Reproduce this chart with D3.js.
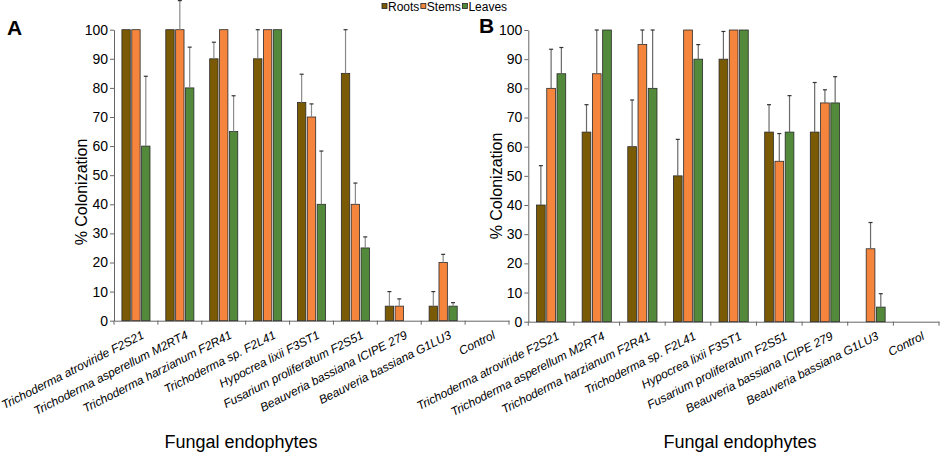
<!DOCTYPE html>
<html>
<head>
<meta charset="utf-8">
<script src="https://cdn.jsdelivr.net/npm/d3@7"></script>
<style>
  body { margin: 0; background: #fff; }
  svg { font-family: "Liberation Sans", Arial, sans-serif; }
  .tick text { fill: #000; }
</style>
</head>
<body>
<div id="chart"></div>
<script>
// categories
var endophytes = [
  "Trichoderma atroviride F2S21",
  "Trichoderma asperellum M2RT4",
  "Trichoderma harzianum F2R41",
  "Trichoderma sp. F2L41",
  "Hypocrea lixii F3ST1",
  "Fusarium proliferatum F2S51",
  "Beauveria bassiana ICIPE 279",
  "Beauveria bassiana G1LU3",
  "Control"
];
var tissues = ["Roots", "Stems", "Leaves"];
var yTicks = [0, 10, 20, 30, 40, 50, 60, 70, 80, 90, 100];

// panel A values (% colonization) and error bars
var rootsA = [100, 100, 90, 90, 75, 85, 5, 5, 0];
var rootsErrA = [0, 0, 5.7, 10, 9.7, 15, 5, 5, 0];
var stemsA = [100, 100, 100, 100, 70, 40, 5, 20, 0];
var stemsErrA = [0, 10, 0, 0, 4.5, 7.3, 2.5, 2.8, 0];
var leavesA = [60, 80, 65, 100, 40, 25, 0, 5, 0];
var leavesErrA = [24, 14, 12.3, 0, 18.3, 3.8, 0, 1.2, 0];

// panel B values
var rootsB = [40, 65, 60, 50, 90, 65, 65, 0, 0];
var rootsErrB = [13.5, 9.4, 16, 12.5, 9.5, 9.4, 17, 0, 0];
var stemsB = [80, 85, 95, 100, 100, 55, 75, 25, 0];
var stemsErrB = [13.4, 15, 5, 0, 0, 9.5, 4.5, 9, 0];
var leavesB = [85, 100, 80, 90, 100, 65, 75, 5, 0];
var leavesErrB = [9, 0, 20, 5, 0, 12.5, 9, 4.6, 0];

var colors = {"Roots": "#7a5a04", "Stems": "#f5843c", "Leaves": "#53893a"};

var svg = d3.select("#chart").append("svg")
    .attr("width", 941)
    .attr("height", 456);

// builds rows of {cat, key, value, err} for one panel
function buildRows(vals, errs){
    var rows = [];
    endophytes.forEach(function(c, i){
        tissues.forEach(function(t, j){
            rows.push({cat: c, key: t, value: vals[j][i], err: errs[j][i]});
        });
    });
    return rows;
}

function drawPanel(opts){
    var x = d3.scaleBand().domain(endophytes)
        .range([opts.left, opts.right])
        .paddingInner(0.36).paddingOuter(0.18);
    var xs = d3.scaleBand().domain(tissues)
        .range([0, x.bandwidth()])
        .paddingInner(0.15);
    var y = d3.scaleLinear().domain([0, 100]).range([opts.bottom, opts.top]);

    var g = svg.append("g");

    // y axis
    var yAxis = g.append("g")
        .attr("transform", "translate(" + opts.left + ",0)")
        .call(d3.axisLeft(y).tickValues(yTicks).tickSize(4).tickSizeOuter(0))
        .attr("font-family", null);
    yAxis.select(".domain").attr("stroke", "#666");
    yAxis.selectAll(".tick line").attr("stroke", "#666");
    yAxis.selectAll(".tick text").style("font-size", "14px").attr("x", -6);

    // x axis, labels at category centres
    var xAxis = g.append("g")
        .attr("transform", "translate(0," + opts.bottom + ")")
        .call(d3.axisBottom(x).tickSize(0).tickSizeOuter(0))
        .attr("font-family", null);
    xAxis.select(".domain").attr("stroke", "#666");
    xAxis.selectAll(".tick text")
        .style("font-size", "12px")
        .style("font-style", "italic")
        .attr("text-anchor", "end")
        .attr("dy", null)
        .attr("y", 0)
        .attr("transform", "translate(9,17) rotate(-27)");

    // boundary ticks between categories
    var step = x.step();
    var bounds = endophytes.map(function(c){ return x(c) - step * 0.18; });
    bounds.push(opts.right);
    g.selectAll(".bound").data(bounds).enter().append("line")
        .attr("x1", function(d){ return d; })
        .attr("x2", function(d){ return d; })
        .attr("y1", opts.bottom)
        .attr("y2", opts.bottom + 4)
        .attr("stroke", "#666");

    var rows = buildRows(opts.values, opts.errors);

    // bars
    g.selectAll(".bar").data(rows.filter(function(d){ return d.value > 0; }))
        .enter().append("rect")
        .attr("x", function(d){ return x(d.cat) + xs(d.key); })
        .attr("y", function(d){ return y(d.value); })
        .attr("width", xs.bandwidth())
        .attr("height", function(d){ return y(0) - y(d.value); })
        .attr("fill", function(d){ return colors[d.key]; })
        .attr("stroke", "#2a2a2a")
        .attr("stroke-width", 0.8);

    // error bars
    var eb = rows.filter(function(d){ return d.err > 0; });
    g.selectAll(".err").data(eb).enter().append("line")
        .attr("x1", function(d){ return x(d.cat) + xs(d.key) + xs.bandwidth() / 2; })
        .attr("x2", function(d){ return x(d.cat) + xs(d.key) + xs.bandwidth() / 2; })
        .attr("y1", function(d){ return y(d.value); })
        .attr("y2", function(d){ return y(d.value + d.err); })
        .attr("stroke", opts.errColor)
        .attr("stroke-width", 1.2);
    g.selectAll(".cap").data(eb).enter().append("line")
        .attr("x1", function(d){ return x(d.cat) + xs(d.key) + xs.bandwidth() / 2 - 2; })
        .attr("x2", function(d){ return x(d.cat) + xs(d.key) + xs.bandwidth() / 2 + 2; })
        .attr("y1", function(d){ return y(d.value + d.err); })
        .attr("y2", function(d){ return y(d.value + d.err); })
        .attr("stroke", "#333")
        .attr("stroke-width", 1.2);

    // axis titles
    g.append("text")
        .attr("transform", "translate(" + opts.yLabelX + "," + opts.yLabelY + ") rotate(-90)")
        .attr("text-anchor", "middle")
        .style("font-size", "16px")
        .text("% Colonization");
    g.append("text")
        .attr("x", opts.xLabelX)
        .attr("y", 448)
        .attr("text-anchor", "middle")
        .style("font-size", "18px")
        .text("Fungal endophytes");

    // panel letter
    g.append("text")
        .attr("x", opts.letterX)
        .attr("y", opts.letterY)
        .style("font-size", "21px")
        .style("font-weight", "bold")
        .text(opts.letter);
}

drawPanel({
    left: 114, right: 509, top: 29.7, bottom: 320.7,
    values: [rootsA, stemsA, leavesA],
    errors: [rootsErrA, stemsErrA, leavesErrA],
    errColor: "#8a8a8a",
    yLabelX: 87, yLabelY: 192, xLabelX: 241,
    letter: "A", letterX: 7, letterY: 35
});

drawPanel({
    left: 528.3, right: 939, top: 30, bottom: 321.7,
    values: [rootsB, stemsB, leavesB],
    errors: [rootsErrB, stemsErrB, leavesErrB],
    errColor: "#6a6a6a",
    yLabelX: 502, yLabelY: 186, xLabelX: 740,
    letter: "B", letterX: 479, letterY: 33
});

// legend: squares + labels laid out by measured text width
var legend = svg.append("g").attr("transform", "translate(382,0)");
var offset = 0;
tissues.forEach(function(t){
    var item = legend.append("g").attr("transform", "translate(" + offset + ",0)");
    item.append("rect")
        .attr("x", 0).attr("y", 3.5)
        .attr("width", 5).attr("height", 5)
        .attr("fill", colors[t])
        .attr("stroke", "#222")
        .attr("stroke-width", 0.8);
    var txt = item.append("text")
        .attr("x", 6).attr("y", 10.5)
        .style("font-size", "12px")
        .text(t);
    offset += 6 + txt.node().getComputedTextLength() + 1.5;
});
</script>
</body>
</html>
